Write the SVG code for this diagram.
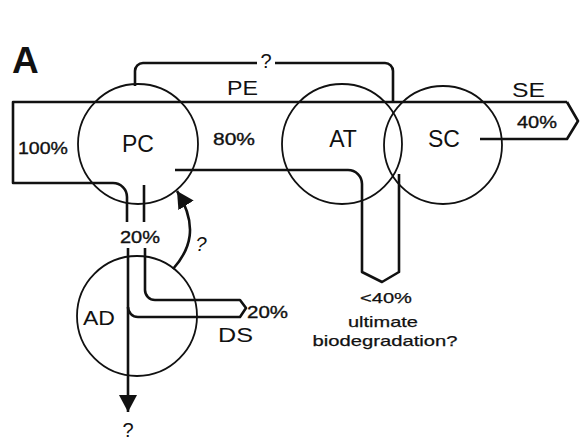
<svg xmlns="http://www.w3.org/2000/svg" width="587" height="444" viewBox="0 0 587 444">
<style>
.node{fill:none;stroke:#111;stroke-width:1.8}
.flow{fill:none;stroke:#111;stroke-width:2.6;stroke-linejoin:round}
text{font-family:"Liberation Sans",Arial,sans-serif;fill:#111}
.nl{font-size:23px;text-anchor:middle}
.pct{font-size:17px;stroke:#111;stroke-width:0.35}
.lbl{font-size:20px}
.q{font-size:20px;text-anchor:middle}
.note{font-size:15px;text-anchor:middle;stroke:#111;stroke-width:0.25}
</style>
<defs>
<marker id="ah" viewBox="0 0 18 20" refX="17" refY="10" markerUnits="userSpaceOnUse" markerWidth="18" markerHeight="20" orient="auto">
<path d="M0,1 L17,10 L0,19 z" fill="#111"/>
</marker>
</defs>
<rect width="587" height="444" fill="#fff"/>
<text x="12" y="73" font-size="37" font-weight="bold">A</text>

<g id="PC"><circle class="node" cx="138" cy="144" r="60"/><text class="nl" x="138" y="152">PC</text></g>
<g id="AT"><circle class="node" cx="342" cy="144" r="60"/><text class="nl" x="343" y="147">AT</text></g>
<g id="SC"><circle class="node" cx="443" cy="145" r="59"/><text class="nl" x="444" y="147">SC</text></g>
<g id="AD"><circle class="node" cx="137" cy="316" r="60"/><text class="lbl" x="83" y="325" textLength="32" lengthAdjust="spacingAndGlyphs">AD</text></g>

<g id="connectors">
<path class="flow" d="M567,102 H13 V183 H113 A14,14 0 0 1 127,197 V222"/>
<path class="flow" d="M144,185 V222"/>
<path class="flow" d="M567,102 L578,121 L567,139 H480"/>
<path class="flow" d="M175,170 H348 A14,14 0 0 1 362,184 V272 L382,282 L399,272 V174"/>
<path class="flow" d="M135,86 V71 A8,8 0 0 1 143,63 H257 M275,63 H385 A8,8 0 0 1 393,71 V103"/>
<path class="flow" d="M128,248 V412" marker-end="url(#ah)"/>
<path class="flow" d="M145,248 V290 A10,10 0 0 0 155,300 H240 L246,308 L240,317 H138 A10,10 0 0 1 128,307"/>
<path class="flow" d="M173,269 C190,250 199,226 177,191" marker-end="url(#ah)"/>
</g>

<g id="labels">
<text class="pct" x="18" y="154" textLength="50" lengthAdjust="spacingAndGlyphs">100%</text>
<text class="pct" x="213" y="145" textLength="42" lengthAdjust="spacingAndGlyphs">80%</text>
<text class="lbl" x="227" y="95" textLength="31" lengthAdjust="spacingAndGlyphs">PE</text>
<text class="q" x="266" y="68" font-size="19">?</text>
<text class="lbl" x="512" y="97" textLength="33" lengthAdjust="spacingAndGlyphs">SE</text>
<text class="pct" x="517" y="128" textLength="40" lengthAdjust="spacingAndGlyphs">40%</text>
<text class="pct" x="120" y="243" textLength="40" lengthAdjust="spacingAndGlyphs">20%</text>
<text class="q" x="201" y="251" font-size="25" font-style="italic">?</text>
<text class="pct" x="247" y="318" textLength="41" lengthAdjust="spacingAndGlyphs">20%</text>
<text class="lbl" x="218" y="342" textLength="35" lengthAdjust="spacingAndGlyphs">DS</text>
<text class="q" x="128" y="437" font-size="22">?</text>
<text class="note" x="386" y="303" textLength="52" lengthAdjust="spacingAndGlyphs">&lt;40%</text>
<text class="note" x="383" y="327" textLength="70" lengthAdjust="spacingAndGlyphs">ultimate</text>
<text class="note" x="385" y="346" textLength="145" lengthAdjust="spacingAndGlyphs">biodegradation?</text>
</g>
</svg>
